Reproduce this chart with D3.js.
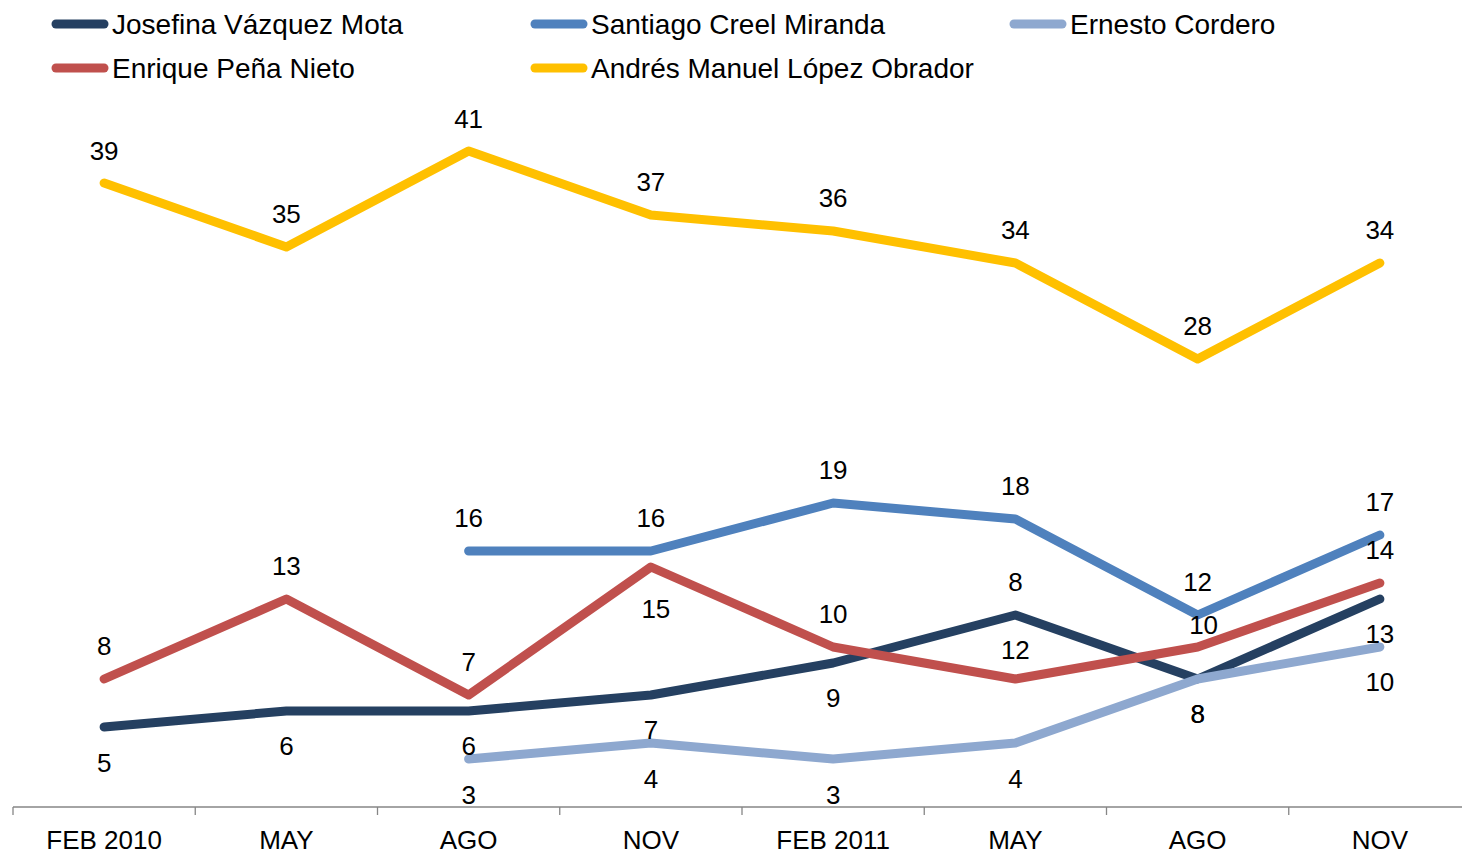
<!DOCTYPE html>
<html>
<head>
<meta charset="utf-8">
<script src="https://cdn.jsdelivr.net/npm/d3@7"></script>
<style>
  body { margin: 0; background: #fff; }
  text { font-family: "Liberation Sans", Arial, sans-serif; }
</style>
</head>
<body>
<div id="chart"></div>
<script>
// categories on the x axis
const periods = ["FEB 2010", "MAY", "AGO", "NOV", "FEB 2011", "MAY", "AGO", "NOV"];

// series values (null = no data)
const josefina = [5, 6, 6, 7, 9, 12, 8, 13];
const santiago = [null, null, 16, 16, 19, 18, 12, 17];
const ernesto  = [null, null, 3, 4, 3, 4, 8, 10];
const enrique  = [8, 13, 7, 15, 10, 8, 10, 14];
const andres   = [39, 35, 41, 37, 36, 34, 28, 34];

const seriesNames = [
  "Josefina Vázquez Mota",
  "Santiago Creel Miranda",
  "Ernesto Cordero",
  "Enrique Peña Nieto",
  "Andrés Manuel López Obrador"
];

const W = 1462, H = 854;

// label placement relative to the point (px, centre of digits)
const series = [
  { name: seriesNames[0], values: josefina, color: "#254061", dy: [36, 35, 35, 35, 35, 35, 35, 35] },
  { name: seriesNames[1], values: santiago, color: "#4F81BD", dy: [0, 0, -33, -33, -33, -33, -33, -33] },
  { name: seriesNames[2], values: ernesto,  color: "#8EA8CF", dy: [0, 0, 36, 36, 36, 36, 35, 35] },
  { name: seriesNames[3], values: enrique,  color: "#C0504D", dy: [-33, -33, -33, 42, -33, -97, -22, -33] },
  { name: seriesNames[4], values: andres,   color: "#FFC000", dy: [-32, -33, -32, -33, -33, -33, -33, -33] }
];
const dxOverride = { "3-6": 6, "3-3": 5 };

const svg = d3.select("#chart").append("svg")
  .attr("width", W)
  .attr("height", H);

const x = d3.scaleBand()
  .domain(d3.range(periods.length))
  .range([13, 1471]);

const y = d3.scaleLinear()
  .domain([0, 50])
  .range([807, 7]);

const cx = i => x(i) + x.bandwidth() / 2;

// x axis
const axis = svg.append("g").attr("transform", "translate(0,807)");
axis.append("line")
  .attr("x1", 13).attr("x2", W)
  .attr("stroke", "#868686").attr("stroke-width", 1.3);
axis.selectAll("line.tick")
  .data(d3.range(periods.length + 1))
  .join("line")
  .attr("class", "tick")
  .attr("x1", i => 13 + i * x.bandwidth())
  .attr("x2", i => 13 + i * x.bandwidth())
  .attr("y1", 0).attr("y2", 8)
  .attr("stroke", "#868686").attr("stroke-width", 1.3);
axis.selectAll("text")
  .data(periods)
  .join("text")
  .attr("x", (d, i) => cx(i))
  .attr("y", 42)
  .attr("text-anchor", "middle")
  .attr("font-size", 26)
  .attr("fill", "#000")
  .text(d => d);

// lines
const line = d3.line()
  .defined(d => d != null)
  .x((d, i) => cx(i))
  .y(d => y(d));

svg.selectAll("path.series")
  .data(series)
  .join("path")
  .attr("class", "series")
  .attr("d", s => line(s.values))
  .attr("fill", "none")
  .attr("stroke", s => s.color)
  .attr("stroke-width", 9)
  .attr("stroke-linecap", "round")
  .attr("stroke-linejoin", "round");

// data labels
series.forEach((s, si) => {
  svg.append("g").selectAll("text")
    .data(s.values.map((v, i) => ({ v, i })).filter(d => d.v != null))
    .join("text")
    .attr("x", d => cx(d.i) + (dxOverride[si + "-" + d.i] || 0))
    .attr("y", d => y(d.v) + s.dy[d.i] + 9)
    .attr("text-anchor", "middle")
    .attr("font-size", 26)
    .attr("fill", "#000")
    .text(d => d.v);
});

// legend
const legendPos = [
  [52, 24], [531, 24], [1010, 24],
  [52, 68], [531, 68]
];
const legend = svg.append("g");
series.forEach((s, i) => {
  const [lx, ly] = legendPos[i];
  legend.append("line")
    .attr("x1", lx + 4).attr("x2", lx + 52)
    .attr("y1", ly).attr("y2", ly)
    .attr("stroke", s.color)
    .attr("stroke-width", 9)
    .attr("stroke-linecap", "round");
  legend.append("text")
    .attr("x", lx + 60)
    .attr("y", ly + 10)
    .attr("font-size", 28)
    .attr("fill", "#000")
    .text(s.name);
});
</script>
</body>
</html>
